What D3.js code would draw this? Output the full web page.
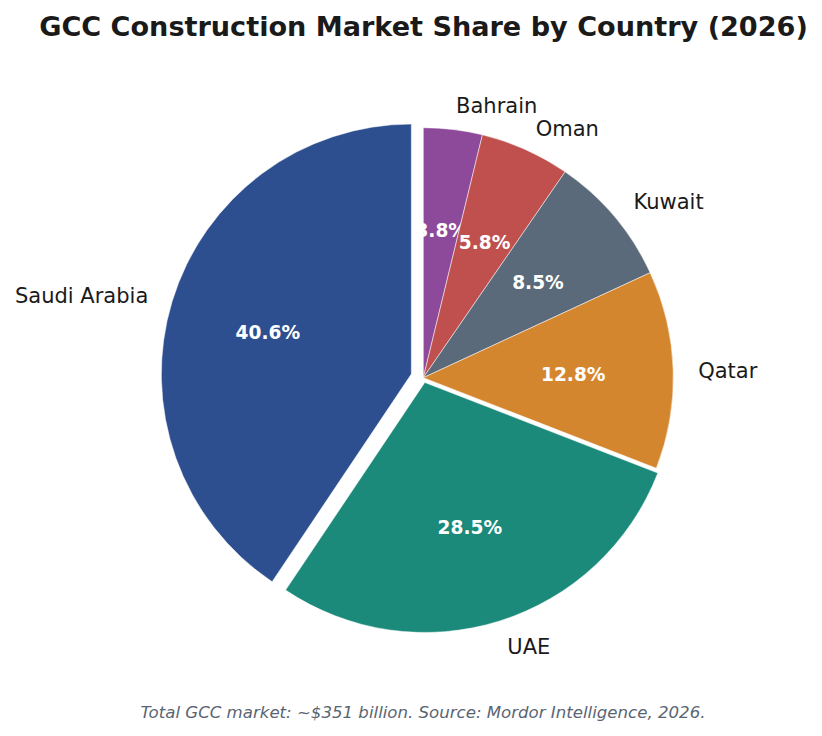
<!DOCTYPE html>
<html>
<head>
<meta charset="utf-8">
<script src="https://cdn.jsdelivr.net/npm/d3@7"></script>
<style>
  body { margin: 0; background: #fff; }
  svg text { font-family: "DejaVu Sans", sans-serif; }
</style>
</head>
<body>
<svg id="chart" width="822" height="736"></svg>
<script>
// data, clockwise from 12 o'clock
var countries = ["Bahrain", "Oman", "Kuwait", "Qatar", "UAE", "Saudi Arabia"];
var shares = [3.8, 5.8, 8.5, 12.8, 28.5, 40.6];
var colors = ["#8e4a9a", "#c0504d", "#5b6a7a", "#d4862f", "#1b8a7b", "#2e4f8f"];
var explode = [0, 0, 0, 0, 0.02, 0.05];

var svg = d3.select("#chart"),
    cx = 423.3, cy = 377.7, r = 250;

var data = countries.map(function(c, i) {
  return { name: c, value: shares[i], color: colors[i], explode: explode[i] };
});

var pie = d3.pie().sort(null).value(function(d) { return d.value; });
var arc = d3.arc().innerRadius(0).outerRadius(r);
var total = d3.sum(shares);

var g = svg.append("g").attr("transform", "translate(" + cx + "," + cy + ")");

var slices = g.selectAll(".slice")
  .data(pie(data))
  .enter().append("g")
  .attr("class", "slice")
  .attr("transform", function(d) {
    var a = (d.startAngle + d.endAngle) / 2, off = d.data.explode * r;
    return "translate(" + (Math.sin(a) * off) + "," + (-Math.cos(a) * off) + ")";
  });

slices.append("path")
  .attr("d", arc)
  .attr("fill", function(d) { return d.data.color; })
  .attr("stroke", "#fff")
  .attr("stroke-width", 0.5);

// category labels at 1.1 r
slices.append("text")
  .attr("x", function(d) { return Math.sin((d.startAngle + d.endAngle) / 2) * r * 1.1; })
  .attr("y", function(d) { return -Math.cos((d.startAngle + d.endAngle) / 2) * r * 1.1; })
  .attr("dy", "0.42em")
  .attr("text-anchor", function(d) {
    return Math.sin((d.startAngle + d.endAngle) / 2) > 0 ? "start" : "end";
  })
  .attr("font-size", 21)
  .attr("fill", "#1a1a1a")
  .text(function(d) { return d.data.name; });

// percentages at 0.6 r
slices.append("text")
  .attr("x", function(d) { return Math.sin((d.startAngle + d.endAngle) / 2) * r * 0.6; })
  .attr("y", function(d) { return -Math.cos((d.startAngle + d.endAngle) / 2) * r * 0.6; })
  .attr("dy", "0.45em")
  .attr("text-anchor", "middle")
  .attr("font-size", 18.6)
  .attr("font-weight", "bold")
  .attr("fill", "#fff")
  .text(function(d) { return d3.format(".1f")(d.value / total * 100) + "%"; });

svg.append("text")
  .attr("x", 423.5)
  .attr("y", 36)
  .attr("text-anchor", "middle")
  .attr("font-size", 27.1)
  .attr("font-weight", "bold")
  .attr("fill", "#1a1a1a")
  .text("GCC Construction Market Share by Country (2026)");

svg.append("text")
  .attr("x", 423)
  .attr("y", 718)
  .attr("text-anchor", "middle")
  .attr("font-size", 16.6)
  .attr("font-style", "italic")
  .attr("fill", "#5a6573")
  .text("Total GCC market: ~$351 billion. Source: Mordor Intelligence, 2026.");
</script>
</body>
</html>
